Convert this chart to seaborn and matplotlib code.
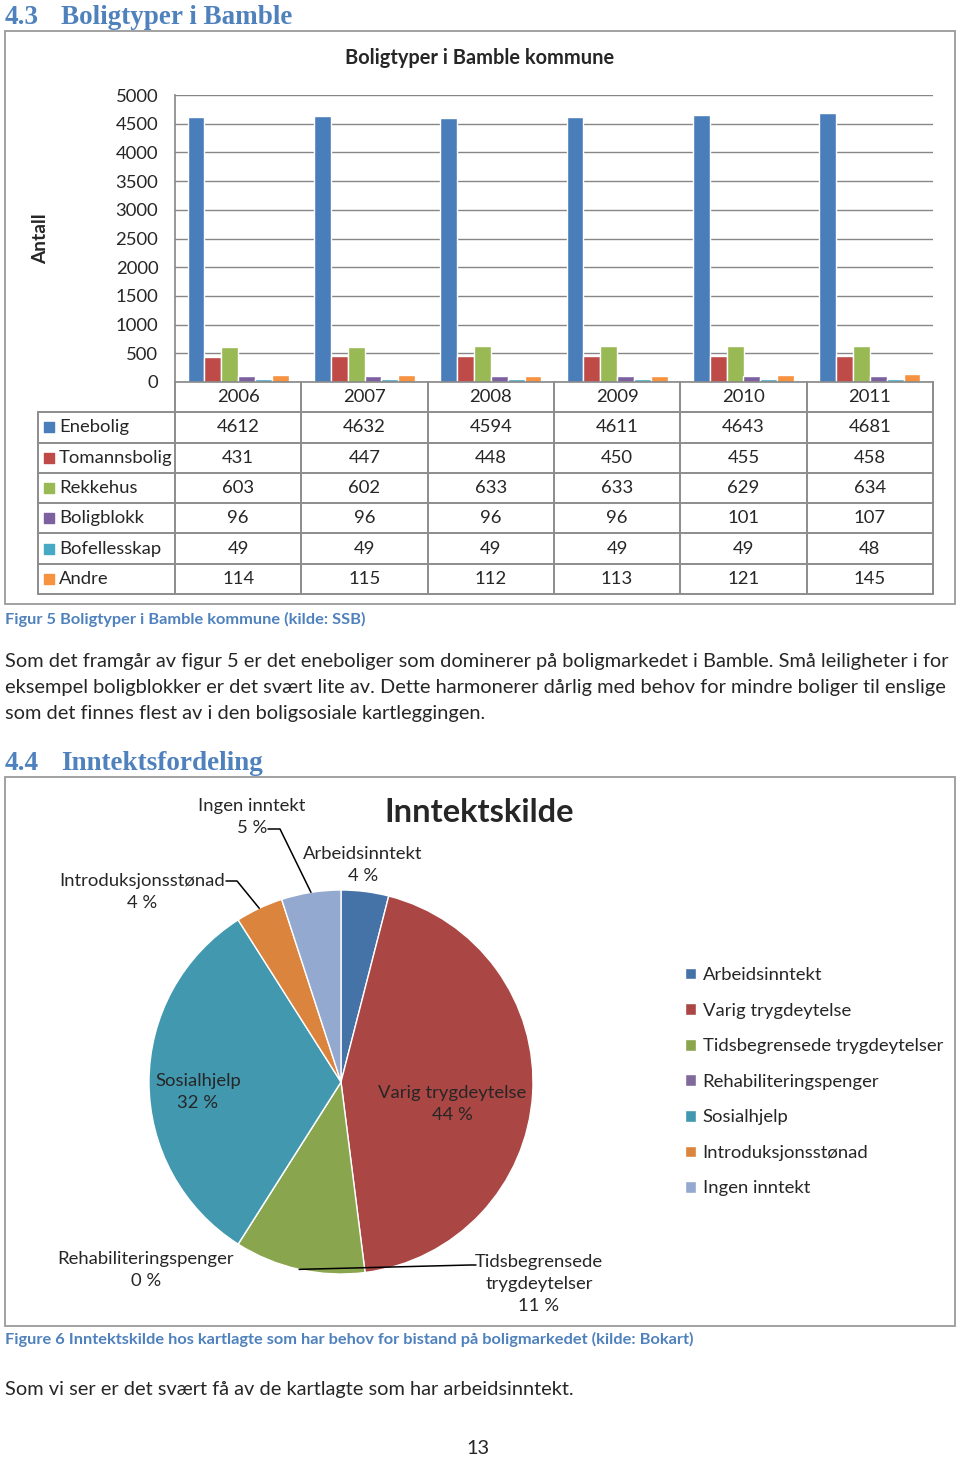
import numpy as np
import pandas as pd
import seaborn as sns
import matplotlib
matplotlib.use("Agg")
import matplotlib.pyplot as plt
from matplotlib.patches import Rectangle
from matplotlib.lines import Line2D

# %% data
years = ["2006", "2007", "2008", "2009", "2010", "2011"]
boligtyper = ["Enebolig", "Tomannsbolig", "Rekkehus", "Boligblokk", "Bofellesskap", "Andre"]
enebolig = [4612, 4632, 4594, 4611, 4643, 4681]
tomannsbolig = [431, 447, 448, 450, 455, 458]
rekkehus = [603, 602, 633, 633, 629, 634]
boligblokk = [96, 96, 96, 96, 101, 107]
bofellesskap = [49, 49, 49, 49, 49, 48]
andre = [114, 115, 112, 113, 121, 145]
y_ticks = list(range(0, 5001, 500))

kilder = ["Arbeidsinntekt", "Varig trygdeytelse", "Tidsbegrensede trygdeytelser",
          "Rehabiliteringspenger", "Sosialhjelp", "Introduksjonsstønad", "Ingen inntekt"]
kilde_pst = [4, 44, 11, 0, 32, 4, 5]
kilde_etikett = ["Arbeidsinntekt", "Varig trygdeytelse", "Tidsbegrensede\ntrygdeytelser",
                 "Rehabiliteringspenger", "Sosialhjelp", "Introduksjonsstønad", "Ingen inntekt"]

bar_colors = ["#4A7EBB", "#BE4B48", "#98B954", "#7D60A0", "#46AAC5", "#F69240"]
pie_colors = ["#4572A7", "#AA4643", "#89A54E", "#80699B", "#4198AF", "#DB843D", "#93A9CF"]
heading_blue = "#4F81BD"
grid_grey = "#868686"

# %% layout helpers (pixel coords, y from top)
W, H = 960, 1457
def box(x0, y0, x1, y1):
    return [x0 / W, 1 - y1 / H, (x1 - x0) / W, (y1 - y0) / H]
def fx(x):
    return x / W
def fy(y):
    return 1 - y / H

sns.set_theme(style="white")
plt.rcParams['font.family'] = ['Lato', 'DejaVu Sans']
chart_fs = 13.3   # text inside the charts
para_fs = 14.4    # running text
cap_fs = 11.8
head_fs = 19.5

fig = plt.figure(figsize=(W / 100, H / 100), dpi=100)
fig.patch.set_facecolor("white")

def frame(x0, y0, x1, y1):
    fig.patches.append(Rectangle((fx(x0), fy(y1)), (x1 - x0) / W, (y1 - y0) / H,
                                 transform=fig.transFigure, fill=False,
                                 edgecolor="#9a9a9a", lw=1.3))

serif = ['Liberation Serif', 'DejaVu Serif']

# %% heading 4.3
fig.text(fx(5), fy(17), "4.3", family=serif, weight="bold", fontsize=head_fs,
         color=heading_blue, va="center")
fig.text(fx(61), fy(17), "Boligtyper i Bamble", family=serif, weight="bold",
         fontsize=head_fs, color=heading_blue, va="center")
frame(5, 31, 955, 604)

fig.text(fx(480), fy(58), "Boligtyper i Bamble kommune", weight="bold",
         fontsize=14.4, ha="center", va="center")
fig.text(fx(41), fy(239), "Antall", weight="bold", fontsize=13.8,
         rotation=90, ha="center", va="center")

# %% bar chart
counts = pd.DataFrame(dict(zip(boligtyper, [enebolig, tomannsbolig, rekkehus,
                                             boligblokk, bofellesskap, andre])),
                      index=years)
long = counts.reset_index(names="aar").melt(id_vars="aar", var_name="type",
                                             value_name="antall")

ax = fig.add_axes(box(175, 95, 933, 382))
sns.barplot(data=long, x="aar", y="antall", hue="type", hue_order=boligtyper,
            palette=bar_colors, saturation=1, width=0.8, ax=ax, legend=False)
ax.set_xlim(-0.5, len(years) - 0.5)
ax.set_ylim(0, 5000)
ax.set_yticks(y_ticks)
ax.set_xticks([])
ax.set_xlabel("")
ax.set_ylabel("")
ax.tick_params(axis="y", length=0, pad=12, labelsize=chart_fs)
ax.yaxis.grid(True, color=grid_grey, lw=1)
ax.set_axisbelow(True)
for s in ["top", "right"]:
    ax.spines[s].set_visible(False)
for s in ["left", "bottom"]:
    ax.spines[s].set_color(grid_grey)
    ax.spines[s].set_linewidth(1.2)

# %% data table under the bars
tab = fig.add_axes(box(38, 382, 933, 594))
ppu = (933 - 175) / len(years)
x_left = -0.5 - (175 - 38) / ppu
nrow = len(boligtyper) + 1
tab.set_xlim(x_left, len(years) - 0.5)
tab.set_ylim(nrow, 0)
tab.axis("off")
lc = dict(color="#8c8c8c", lw=1.4, clip_on=False)
for k in range(len(years) + 1):
    tab.plot([k - 0.5, k - 0.5], [0, nrow], **lc)
tab.plot([x_left, x_left], [1, nrow], **lc)
for r in range(1, nrow + 1):
    tab.plot([x_left, len(years) - 0.5], [r, r], **lc)
for i, yr in enumerate(years):
    tab.text(i, 0.5, yr, ha="center", va="center", fontsize=chart_fs)
for r, (name, col) in enumerate(zip(boligtyper, bar_colors)):
    yy = r + 1.5
    tab.scatter([x_left + (49 - 38) / ppu], [yy], marker="s", s=50, color=col,
                clip_on=False)
    tab.text(x_left + (59 - 38) / ppu, yy, name, va="center", fontsize=chart_fs)
    for i, v in enumerate(counts[name]):
        tab.text(i, yy, str(v), ha="center", va="center", fontsize=chart_fs)

fig.text(fx(5), fy(619), "Figur 5 Boligtyper i Bamble kommune (kilde: SSB)",
         weight="bold", fontsize=cap_fs, color=heading_blue, va="center")

para = ["Som det framgår av figur 5 er det eneboliger som dominerer på boligmarkedet i Bamble. Små leiligheter i for",
        "eksempel boligblokker er det svært lite av. Dette harmonerer dårlig med behov for mindre boliger til enslige",
        "som det finnes flest av i den boligsosiale kartleggingen."]
for j, line in enumerate(para):
    fig.text(fx(5), fy(662 + 26 * j), line, fontsize=para_fs, va="center")

# %% heading 4.4 and pie chart
fig.text(fx(5), fy(763), "4.4", family=serif, weight="bold", fontsize=head_fs,
         color=heading_blue, va="center")
fig.text(fx(61), fy(763), "Inntektsfordeling", family=serif, weight="bold",
         fontsize=head_fs, color=heading_blue, va="center")
frame(5, 777, 955, 1326)

fig.text(fx(479), fy(813), "Inntektskilde", weight="bold", fontsize=23.5,
         ha="center", va="center")

pax = fig.add_axes(box(149, 890, 533, 1274))
wedges, _ = pax.pie(kilde_pst, colors=pie_colors, startangle=90,
                    counterclock=False, radius=1)
pax.set_xlim(-1, 1)
pax.set_ylim(-1, 1)

# label positions (pixel centres of the text blocks) and leader line knees
lab_pos = {
    "Arbeidsinntekt": (363, 865, None),
    "Varig trygdeytelse": (452, 1104, None),
    "Tidsbegrensede trygdeytelser": (539, 1284, ((476, 1265), (470, 1265))),
    "Rehabiliteringspenger": (146, 1270, None),
    "Sosialhjelp": (198, 1092, None),
    "Introduksjonsstønad": (142, 892, ((226, 881), (237, 881))),
    "Ingen inntekt": (252, 817, ((268, 829), (280, 829))),
}
cum = np.cumsum([0] + kilde_pst[:-1])
to_fig = fig.transFigure.inverted()
for name, etikett, v, c0 in zip(kilder, kilde_etikett, kilde_pst, cum):
    x, y, leader = lab_pos[name]
    fig.text(fx(x), fy(y), f"{etikett}\n{v} %", ha="center", va="center",
             fontsize=chart_fs, linespacing=1.45)
    if leader:
        ang = np.deg2rad(90 - 360 * (c0 + v / 2) / 100)
        ex, ey = to_fig.transform(pax.transData.transform((np.cos(ang), np.sin(ang))))
        (ax0, ay0), (kx, ky) = leader
        fig.lines.append(Line2D([fx(ax0), fx(kx), ex], [fy(ay0), fy(ky), ey],
                                transform=fig.transFigure, color="black", lw=1.1))

fig.legend(wedges, kilder, loc="upper left", bbox_to_anchor=(fx(685), fy(967)),
           frameon=False, fontsize=chart_fs, handlelength=0.6, handleheight=0.6,
           handletextpad=0.35, labelspacing=1.06, borderaxespad=0, borderpad=0)

fig.text(fx(5), fy(1339),
         "Figure 6 Inntektskilde hos kartlagte som har behov for bistand på boligmarkedet (kilde: Bokart)",
         weight="bold", fontsize=cap_fs, color=heading_blue, va="center")
fig.text(fx(5), fy(1389), "Som vi ser er det svært få av de kartlagte som har arbeidsinntekt.",
         fontsize=para_fs, va="center")
fig.text(fx(478), fy(1448), "13", fontsize=para_fs, ha="center", va="center")

fig.savefig("out.png", dpi=100)
